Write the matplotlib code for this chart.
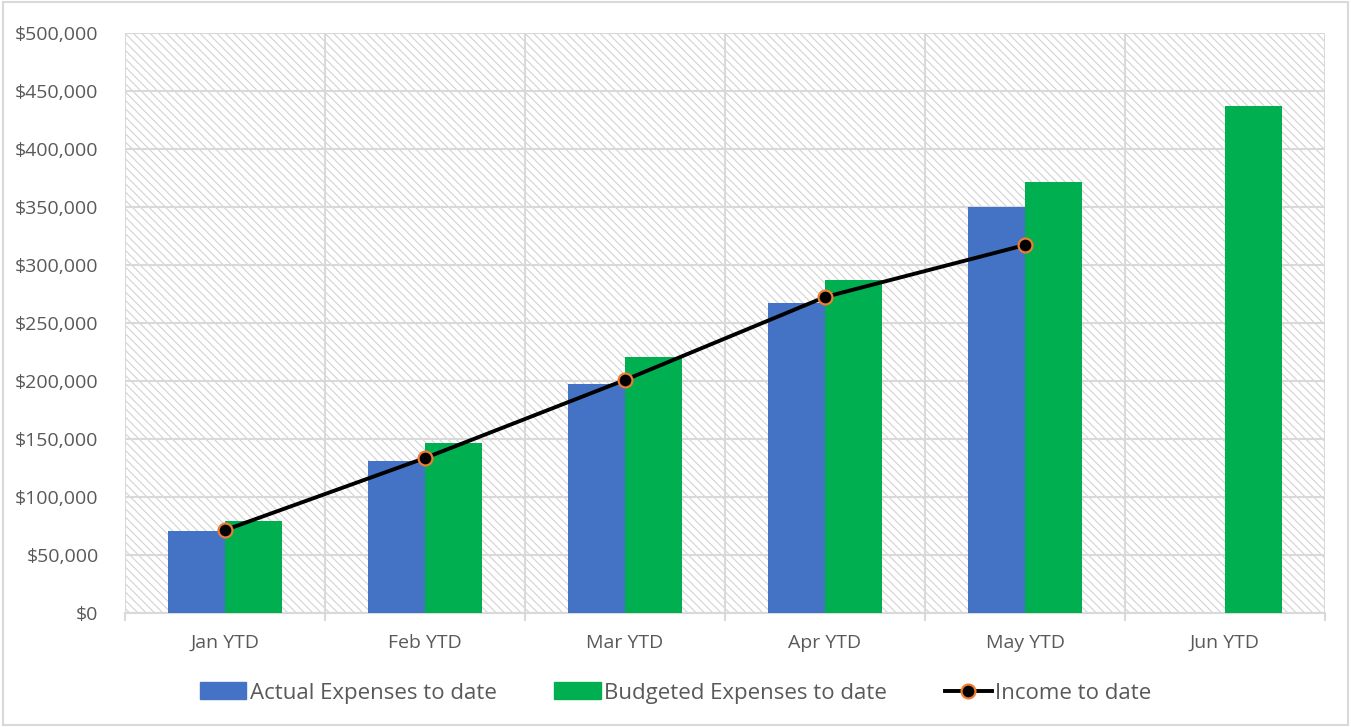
import matplotlib.pyplot as plt
import numpy as np
from matplotlib.patches import Rectangle
from matplotlib.lines import Line2D
from matplotlib.ticker import FuncFormatter

categories = ['Jan YTD', 'Feb YTD', 'Mar YTD', 'Apr YTD', 'May YTD', 'Jun YTD']
actual = [70700, 131000, 197400, 267000, 350000, np.nan]
budgeted = [79300, 146500, 220700, 287500, 371600, 437500]
income = [71500, 133600, 200900, 272400, 317200, np.nan]

blue = '#4472C4'
green = '#00B050'
grid_c = '#d9d9d9'
text_c = '#595959'

plt.rcParams['font.family'] = ['Open Sans', 'DejaVu Sans']
plt.rcParams['hatch.linewidth'] = 0.8

fig = plt.figure(figsize=(13.51, 7.27), dpi=100)
ax = fig.add_axes([125 / 1351, 1 - 613 / 727, 1200 / 1351, 580 / 727])

x = np.arange(len(categories))
w = 0.285

# hatched background
ax.add_patch(Rectangle((0, 0), 1, 1, transform=ax.transAxes, facecolor='white',
                       edgecolor='#d2d2d2', hatch='\\\\\\\\', linewidth=0, zorder=0))

ax.bar(x - w / 2, actual, w, color=blue, zorder=3, label='Actual Expenses to date')
ax.bar(x + w / 2, budgeted, w, color=green, zorder=3, label='Budgeted Expenses to date')
ax.plot(x, income, color='black', linewidth=2.8, marker='o', markersize=10,
        markerfacecolor='black', markeredgecolor='#ED7D31', markeredgewidth=1.6,
        zorder=4, label='Income to date')

ax.set_xlim(-0.5, len(categories) - 0.5)
ax.set_ylim(0, 500000)
ax.set_yticks(np.arange(0, 500001, 50000))
ax.yaxis.set_major_formatter(FuncFormatter(lambda v, p: '${:,.0f}'.format(v)))
ax.set_xticks(x)
ax.set_xticklabels(categories)
ax.set_xticks(np.arange(-0.5, len(categories), 1), minor=True)

ax.grid(axis='y', color=grid_c, linewidth=1.5, zorder=1)
ax.grid(axis='x', which='minor', color=grid_c, linewidth=1.5, zorder=1)
ax.set_axisbelow(True)
for s in ax.spines.values():
    s.set_visible(False)
ax.spines['bottom'].set_visible(True)
ax.spines['bottom'].set_color(grid_c)
ax.spines['bottom'].set_linewidth(1.5)

ax.tick_params(axis='y', length=0, pad=19, labelsize=14, labelcolor=text_c)
ax.tick_params(axis='x', which='major', length=0, pad=15, labelsize=14, labelcolor=text_c)
ax.tick_params(axis='x', which='minor', length=6, width=1.5, color=grid_c)

handles = [
    Rectangle((0, 0), 1, 1, color=blue),
    Rectangle((0, 0), 1, 1, color=green),
    Line2D([], [], color='black', linewidth=2.8, marker='o', markersize=10,
           markerfacecolor='black', markeredgecolor='#ED7D31', markeredgewidth=1.6),
]
labels = ['Actual Expenses to date', 'Budgeted Expenses to date', 'Income to date']
leg = fig.legend(handles, labels, loc='center', bbox_to_anchor=(0.5, 1 - 693 / 727),
                 ncol=3, frameon=False, fontsize=16, handlelength=2.1, handleheight=0.8,
                 handletextpad=0.15, columnspacing=2.6)
for t in leg.get_texts():
    t.set_color(text_c)

# outer border
fig.add_artist(Rectangle((0.002, 0.003), 0.996, 0.994, transform=fig.transFigure,
                         fill=False, edgecolor=grid_c, linewidth=1.5))

fig.savefig('out.png', dpi=100)
